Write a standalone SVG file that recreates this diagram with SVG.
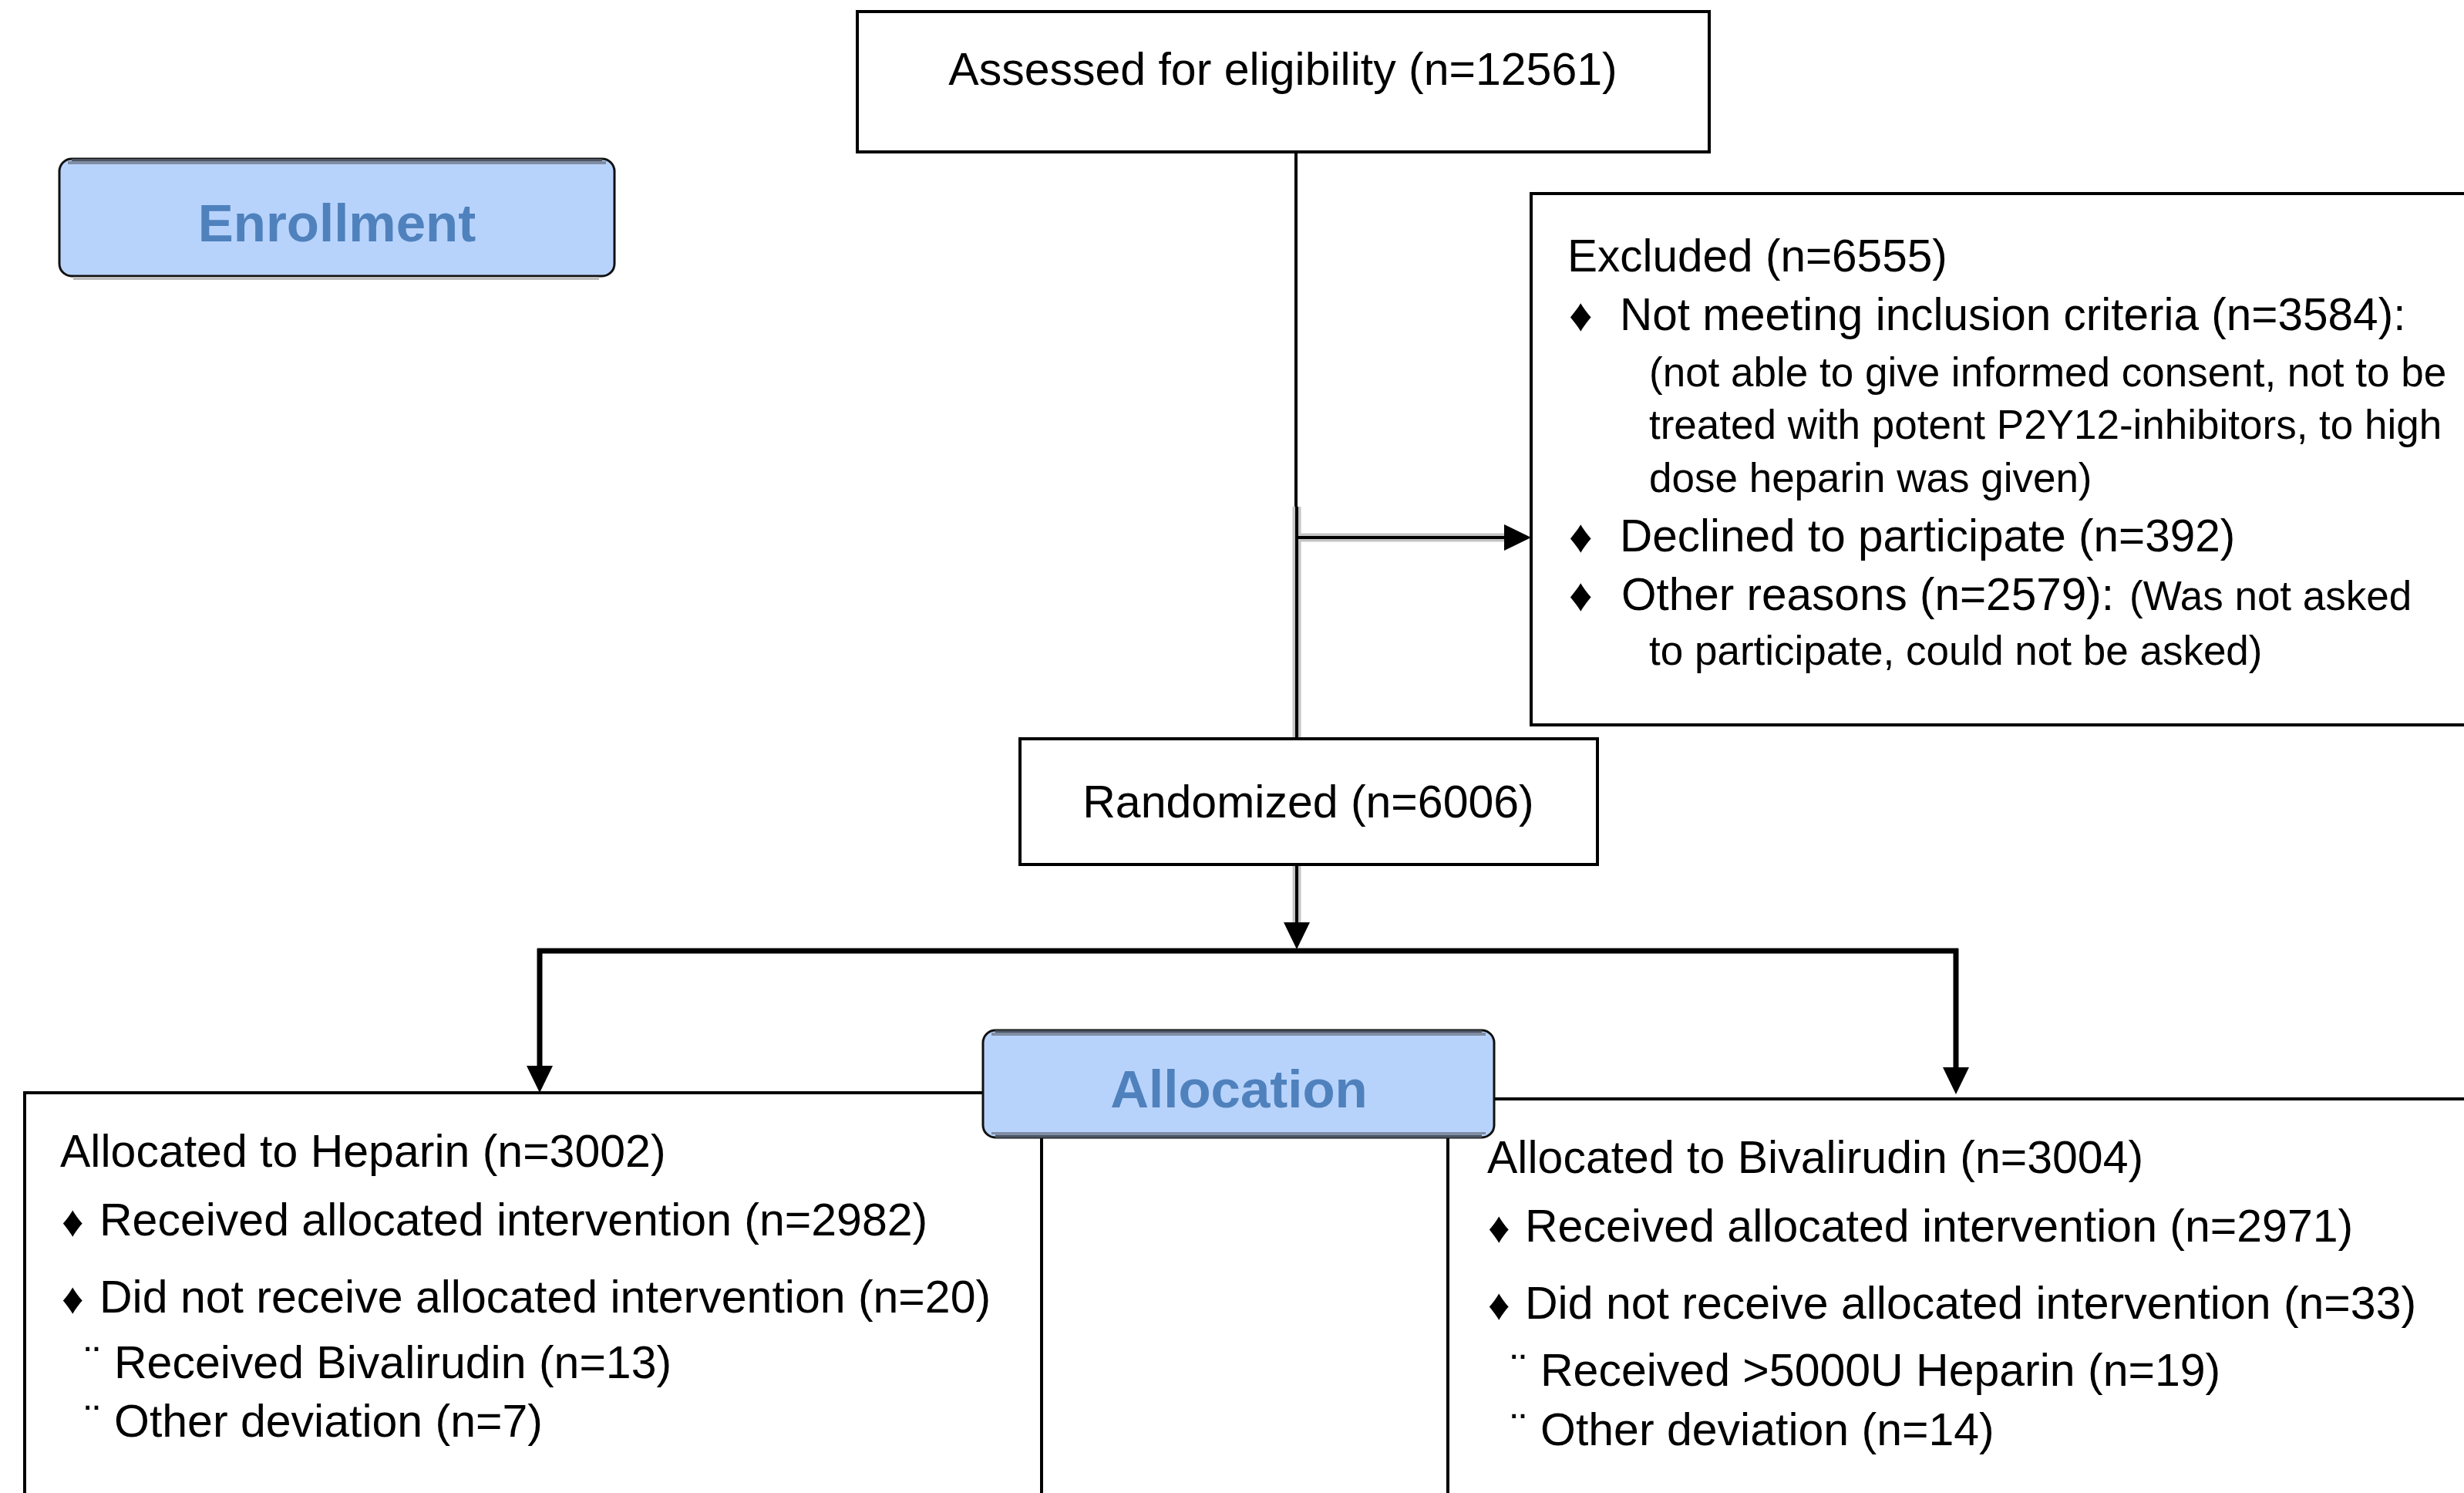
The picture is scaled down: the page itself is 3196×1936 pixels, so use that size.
<svg xmlns="http://www.w3.org/2000/svg" width="3196" height="1936" viewBox="0 0 3196 1936">
<style>
.box{fill:#fff;stroke:#000;stroke-width:4}
.t{font-family:"Liberation Sans",Arial,sans-serif;font-size:59px;fill:#000}
.e{font-family:"Liberation Sans",Arial,sans-serif;font-size:58.5px;fill:#000}
.s{font-family:"Liberation Sans",Arial,sans-serif;font-size:53px;fill:#000}
.b{font-family:"Liberation Sans",Arial,sans-serif;font-size:60px;fill:#000}
.b2{font-family:"Liberation Sans",Arial,sans-serif;font-size:56px;fill:#000}
.lbl{font-family:"Liberation Sans",Arial,sans-serif;font-size:69px;font-weight:bold;fill:#4f81bd;text-anchor:middle}
.pill{fill:#b8d3fb;stroke:#111;stroke-width:3}
.halo{fill:none;stroke:#c4c4c4;stroke-width:11}
.thin{fill:none;stroke:#000;stroke-width:4}
.thick{fill:none;stroke:#000;stroke-width:7}
</style>
<defs>
<marker id="ah" markerUnits="userSpaceOnUse" markerWidth="36" markerHeight="36" refX="0" refY="17" orient="auto" viewBox="0 0 36 34">
<path d="M0,0 L35,17 L0,34 z" fill="#000"/>
</marker>
</defs>
<rect x="0" y="0" width="3196" height="1936" fill="#fff"/>

<g id="connectors">
<line class="halo" x1="1682" y1="657" x2="1682" y2="958"/>
<line class="halo" x1="1682" y1="697" x2="1952" y2="697"/>
<line class="halo" x1="1682" y1="1121" x2="1682" y2="1196"/>
<line class="thin" x1="1681" y1="197" x2="1681" y2="657"/>
<line class="thin" x1="1682" y1="657" x2="1682" y2="958"/>
<line class="thin" x1="1682" y1="697" x2="1951" y2="697" marker-end="url(#ah)"/>
<line class="thin" x1="1682" y1="1121" x2="1682" y2="1196" marker-end="url(#ah)"/>
<line class="thick" x1="697" y1="1233" x2="2540" y2="1233"/>
<line class="thick" x1="700" y1="1230" x2="700" y2="1382" marker-end="url(#ah)"/>
<line class="thick" x1="2537" y1="1230" x2="2537" y2="1384" marker-end="url(#ah)"/>
</g>

<g id="enrollment">
<rect class="pill" x="77" y="206" width="720" height="152" rx="16"/>
<line x1="93" y1="207.5" x2="781" y2="207.5" stroke="#4d5563" stroke-width="3"/>
<line x1="88" y1="211" x2="786" y2="211" stroke="#7f8ca3" stroke-width="4"/>
<line x1="95" y1="361" x2="777" y2="361" stroke="#bdbdbd" stroke-width="4"/>
<text class="lbl" x="437" y="313">Enrollment</text>
</g>

<g id="assessed">
<rect class="box" x="1112" y="15" width="1105" height="182"/>
<text class="t" x="1664" y="110" text-anchor="middle">Assessed for eligibility (n=12561)</text>
</g>

<g id="excluded">
<rect class="box" x="1986" y="251" width="1300" height="689"/>
<text class="e" x="2033" y="352">Excluded (n=6555)</text>
<text class="b" x="2035" y="429">♦</text>
<text class="e" x="2101" y="428">Not meeting inclusion criteria (n=3584):</text>
<text class="s" x="2139" y="501">(not able to give informed consent, not to be</text>
<text class="s" x="2139" y="569">treated with potent P2Y12-inhibitors, to high</text>
<text class="s" x="2139" y="638">dose heparin was given)</text>
<text class="b" x="2035" y="716">♦</text>
<text class="e" x="2101" y="715">Declined to participate (n=392)</text>
<text class="b" x="2035" y="792">♦</text>
<text class="e" x="2103" y="791">Other reasons (n=2579): <tspan class="s" x="2762">(Was not asked</tspan></text>
<text class="s" x="2139" y="862">to participate, could not be asked)</text>
</g>

<g id="randomized">
<rect class="box" x="1323" y="958" width="749" height="163"/>
<text class="t" x="1697" y="1060" text-anchor="middle">Randomized (n=6006)</text>
</g>

<g id="heparin">
<rect class="box" x="32" y="1417" width="1319" height="600"/>
<text class="t" x="78" y="1513">Allocated to Heparin (n=3002)</text>
<text class="b2" x="80" y="1603">♦</text>
<text class="t" x="129" y="1602">Received allocated intervention (n=2982)</text>
<text class="b2" x="80" y="1703">♦</text>
<text class="t" x="129" y="1702">Did not receive allocated intervention (n=20)</text>
<text class="t" x="110" y="1787">¨</text>
<text class="t" x="148" y="1787">Received Bivalirudin (n=13)</text>
<text class="t" x="110" y="1863">¨</text>
<text class="t" x="148" y="1863">Other deviation (n=7)</text>
</g>

<g id="bivalirudin">
<rect class="box" x="1878" y="1425" width="1400" height="600"/>
<text class="t" x="1929" y="1521">Allocated to Bivalirudin (n=3004)</text>
<text class="b2" x="1930" y="1611">♦</text>
<text class="t" x="1978" y="1610">Received allocated intervention (n=2971)</text>
<text class="b2" x="1930" y="1711">♦</text>
<text class="t" x="1978" y="1710">Did not receive allocated intervention (n=33)</text>
<text class="t" x="1960" y="1797">¨</text>
<text class="t" x="1998" y="1797">Received &gt;5000U Heparin (n=19)</text>
<text class="t" x="1960" y="1874">¨</text>
<text class="t" x="1998" y="1874">Other deviation (n=14)</text>
</g>

<g id="allocation">
<rect class="pill" x="1275" y="1336" width="663" height="139" rx="16"/>
<line x1="1291" y1="1337.5" x2="1922" y2="1337.5" stroke="#4d5563" stroke-width="3"/>
<line x1="1286" y1="1341" x2="1927" y2="1341" stroke="#7f8ca3" stroke-width="4"/>
<line x1="1286" y1="1469.5" x2="1927" y2="1469.5" stroke="#7f8ca3" stroke-width="3"/>
<line x1="1291" y1="1473.5" x2="1922" y2="1473.5" stroke="#4d5563" stroke-width="4"/>
<text class="lbl" x="1607" y="1436">Allocation</text>
</g>
</svg>
